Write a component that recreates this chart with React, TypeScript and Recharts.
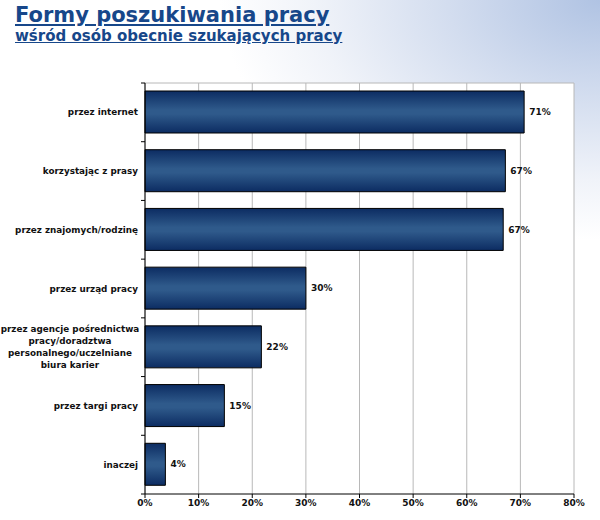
import React from "react";
import { BarChart, Bar, XAxis, YAxis, CartesianGrid, LabelList } from "recharts";

const categories = [
  "przez internet",
  "korzystając z prasy",
  "przez znajomych/rodzinę",
  "przez urząd pracy",
  "przez agencje pośrednictwa pracy/doradztwa personalnego/uczelniane biura karier",
  "przez targi pracy",
  "inaczej",
];
const values = [70.7, 67.2, 66.8, 30.0, 21.7, 14.8, 3.8];
const valueLabels = ["71%", "67%", "67%", "30%", "22%", "15%", "4%"];
const wrappedLines: Record<string, string[]> = {
  "przez agencje pośrednictwa pracy/doradztwa personalnego/uczelniane biura karier": [
    "przez agencje pośrednictwa",
    "pracy/doradztwa",
    "personalnego/uczelniane",
    "biura karier",
  ],
};
const xTicks = [0, 10, 20, 30, 40, 50, 60, 70, 80];

const data = categories.map((c, i) => ({ name: c, value: values[i], label: valueLabels[i] }));

const FONT = "'DejaVu Sans', Verdana, sans-serif";
const PLOT_TOP = 83;
const PLOT_BOTTOM = 494;
const BAND = (PLOT_BOTTOM - PLOT_TOP) / categories.length;

const YTick = (props: any) => {
  const { x, y, payload } = props;
  const lines = wrappedLines[payload.value];
  const half = BAND / 2;
  const axisX = x + 8;
  return (
    <g>
      <line x1={axisX - 4} x2={axisX} y1={y - half} y2={y - half} stroke="#000" />
      {payload.index === categories.length - 1 && (
        <line x1={axisX - 4} x2={axisX} y1={y + half} y2={y + half} stroke="#000" />
      )}
      {lines ? (
        <text textAnchor="middle" fontFamily={FONT} fontSize={8.8} fontWeight="bold" fill="#111">
          {lines.map((l, i) => (
            <tspan key={i} x={70} y={y + 3 + (i - (lines.length - 1) / 2) * 12}>
              {l}
            </tspan>
          ))}
        </text>
      ) : (
        <text x={138} y={y + 3} textAnchor="end" fontFamily={FONT} fontSize={8.8} fontWeight="bold" fill="#111">
          {payload.value}
        </text>
      )}
    </g>
  );
};

export default function App() {
  return (
    <div
      style={{
        position: "absolute",
        left: 0,
        top: 0,
        width: 600,
        height: 520,
        overflow: "hidden",
        background:
          "radial-gradient(ellipse 380px 240px at 100% 0%, #b0c3e3 0%, #d3ddef 40%, #f0f3f9 75%, #ffffff 100%)",
      }}
    >
      <div
        style={{
          position: "absolute",
          left: 15,
          top: 1,
          fontFamily: FONT,
          fontWeight: "bold",
          color: "#17478a",
          fontSize: 21,
          textDecoration: "underline",
          lineHeight: "28px",
          letterSpacing: 0,
        }}
      >
        Formy poszukiwania pracy
      </div>
      <div
        style={{
          position: "absolute",
          left: 15,
          top: 27,
          fontFamily: FONT,
          fontWeight: "bold",
          color: "#17478a",
          fontSize: 15,
          textDecoration: "underline",
          lineHeight: "18px",
        }}
      >
        wśród osób obecnie szukających pracy
      </div>
      <div style={{ position: "absolute", left: 0, top: 0 }}>
        <BarChart
          width={600}
          height={520}
          data={data}
          layout="vertical"
          margin={{ top: PLOT_TOP, right: 26, bottom: 0, left: 0 }}
          barCategoryGap={8}
        >
          <defs>
            <linearGradient id="barGrad" x1="0" y1="0" x2="0" y2="1">
              <stop offset="0%" stopColor="#0c2c62" />
              <stop offset="45%" stopColor="#2f5a8b" />
              <stop offset="55%" stopColor="#2f5a8b" />
              <stop offset="100%" stopColor="#0c2c62" />
            </linearGradient>
          </defs>
          <CartesianGrid
            fill="#ffffff"
            stroke="#b8b8b8"
            vertical={true}
            horizontal={true}
            horizontalPoints={[PLOT_TOP]}
          />
          <XAxis
            type="number"
            domain={[0, 80]}
            ticks={xTicks}
            tickFormatter={(v: number) => `${v}%`}
            axisLine={{ stroke: "#000" }}
            tickLine={{ stroke: "#000" }}
            tickSize={4}
            height={26}
            tick={{ fontFamily: FONT, fontSize: 9, fontWeight: "bold", fill: "#111" }}
            interval={0}
          />
          <YAxis
            type="category"
            dataKey="name"
            width={145}
            axisLine={{ stroke: "#000" }}
            tickLine={false}
            tick={<YTick />}
            interval={0}
          />
          <Bar
            dataKey="value"
            fill="url(#barGrad)"
            stroke="#000"
            strokeWidth={1}
            barSize={42}
            isAnimationActive={false}
          >
            <LabelList
              dataKey="label"
              position="right"
              offset={5}
              style={{ fontFamily: FONT, fontSize: 9, fontWeight: "bold", fill: "#111" }}
            />
          </Bar>
        </BarChart>
      </div>
    </div>
  );
}
